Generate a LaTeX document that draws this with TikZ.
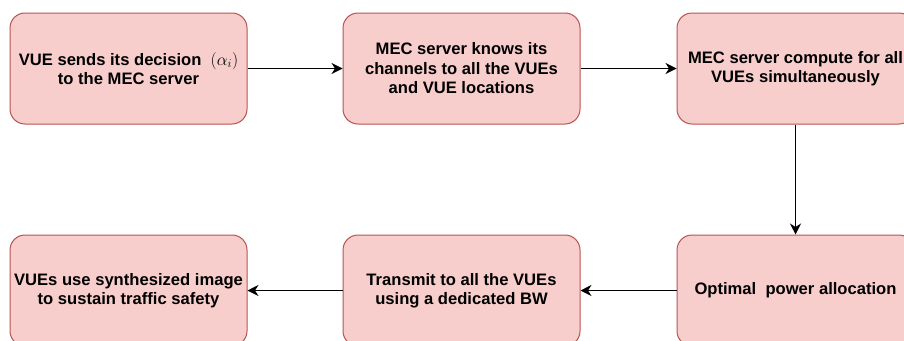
\documentclass[tikz,border=0pt]{standalone}
\usepackage{fontspec}
\setmainfont{Liberation Sans}
\usetikzlibrary{arrows.meta}
\definecolor{boxfill}{HTML}{F8CECC}
\definecolor{boxline}{HTML}{B85450}
\tikzset{
  stepbox/.style={draw=boxline, fill=boxfill, line width=1pt, rounded corners=15pt,
    minimum width=237pt, minimum height=111pt, inner sep=0pt, align=center,
    font=\fontsize{16.6}{19.5}\selectfont\bfseries},
  flow/.style={draw=black, line width=1.1pt, -{Stealth[length=11pt,width=11pt,inset=3.5pt]}}
}
% decision symbol set a little larger than the running text
\newcommand{\decisionsym}{{\fontsize{18}{19.5}\selectfont$(\alpha_i)$}}
\begin{document}
\begin{tikzpicture}[x=1pt,y=-1pt]
\useasboundingbox (0,0) rectangle (904,340);
\clip (0,0) rectangle (904,340);
\fill[white] (0,0) rectangle (904,340);
% top row
\node[stepbox] (decide) at (128.5,68.5) {VUE sends its decision\ \ \decisionsym\\to the MEC server};
\node[stepbox] (knows) at (461.5,68.5) {MEC server knows its\\channels to all the VUEs\\and VUE locations};
\node[stepbox] (compute) at (795.5,68.5) {MEC server compute for all\\VUEs simultaneously};
% bottom row
\node[stepbox] (power) at (795.5,290.5) {Optimal\ \ power allocation};
\node[stepbox] (transmit) at (461.5,290.5) {Transmit to all the VUEs\\using a dedicated BW};
\node[stepbox] (safety) at (128.5,290.5) {VUEs use synthesized image\\to sustain traffic safety};
% connectors
\draw[flow] (decide) -- (knows);
\draw[flow] (knows) -- (compute);
\draw[flow] (compute) -- (power);
\draw[flow] (power) -- (transmit);
\draw[flow] (transmit) -- (safety);
\end{tikzpicture}
\end{document}
